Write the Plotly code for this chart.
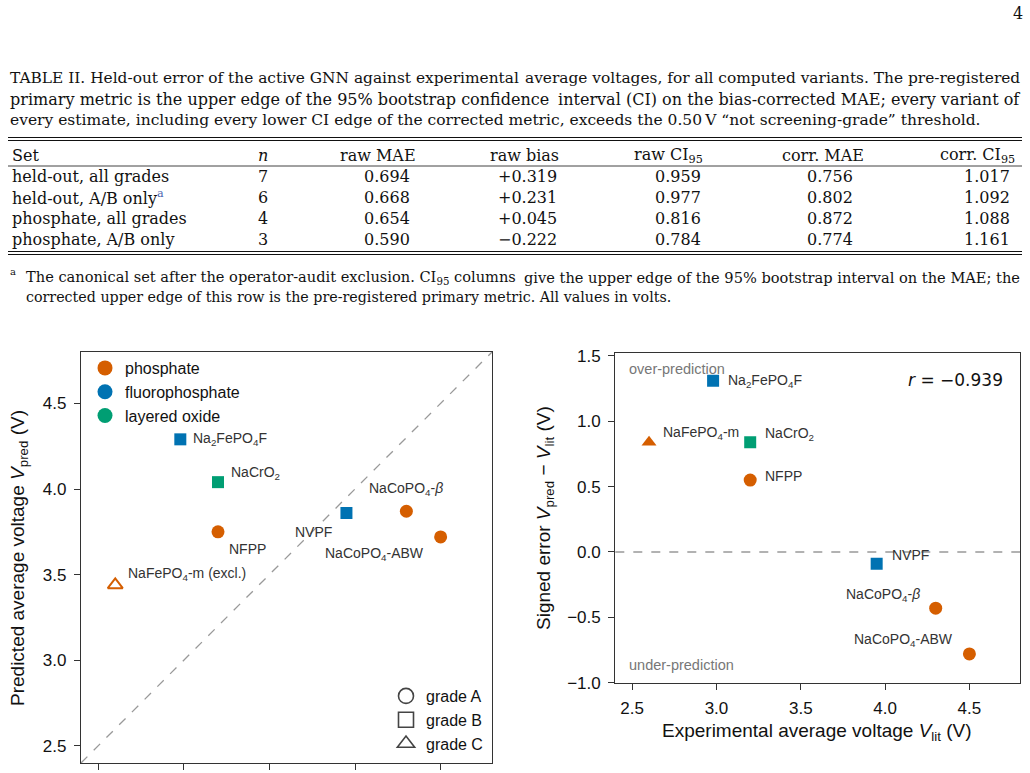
import plotly.graph_objects as go

W, H = 1030, 773

# ---------------- data ----------------
caption_lines = [
    ("TABLE II. Held-out error of the active GNN against experimental",
     "average voltages, for all computed variants. The pre-registered"),
    ("primary metric is the upper edge of the 95% bootstrap confidence",
     "interval (CI) on the bias-corrected MAE; every variant of"),
    ("every estimate, including every lower CI edge of the corrected metric, exceeds the 0.50\u2009V \u201cnot screening-grade\u201d threshold.", None),
]
col_headers = ["Set", "<i>n</i>", "raw MAE", "raw bias", "raw CI<sub>95</sub>", "corr. MAE", "corr. CI<sub>95</sub>"]
set_names = ["held-out, all grades", "held-out, A/B only", "phosphate, all grades", "phosphate, A/B only"]
set_footmark = ["", "a", "", ""]
n_vals = [7, 6, 4, 3]
raw_mae = [0.694, 0.668, 0.654, 0.590]
raw_bias = [0.319, 0.231, 0.045, -0.222]
raw_ci95 = [0.959, 0.977, 0.816, 0.784]
corr_mae = [0.756, 0.802, 0.872, 0.774]
corr_ci95 = [1.017, 1.092, 1.088, 1.161]
footnote_lines = [
    ("The canonical set after the operator-audit exclusion. CI<sub>95</sub> columns",
     "give the upper edge of the 95% bootstrap interval on the MAE; the"),
    ("corrected upper edge of this row is the pre-registered primary metric. All values in volts.", None),
]

materials = ["NFPP", "NaCoPO<sub>4</sub>-<i>\u03b2</i>", "NaCoPO<sub>4</sub>-ABW", "NaFePO<sub>4</sub>-m",
             "Na<sub>2</sub>FePO<sub>4</sub>F", "NVPF", "NaCrO<sub>2</sub>"]
family = ["phosphate", "phosphate", "phosphate", "phosphate", "fluorophosphate", "fluorophosphate", "layered oxide"]
grade = ["A", "A", "A", "C", "B", "B", "B"]
v_lit = [3.20, 4.30, 4.50, 2.60, 2.98, 3.95, 3.20]
v_pred = [3.75, 3.87, 3.72, 3.44, 4.29, 3.86, 4.04]
r_text = "<i>r</i> = \u22120.939"

fam_order = ["phosphate", "fluorophosphate", "layered oxide"]
fam_color = {"phosphate": "#D55E00", "fluorophosphate": "#0072B2", "layered oxide": "#009E73"}
grade_order = ["A", "B", "C"]
grade_symbol = {"A": "circle", "B": "square", "C": "triangle-up"}
grade_size = {"A": 13, "B": 12, "C": 13}

# label offsets (pixels) : (xanchor, xshift, yshift)
left_lab = [("left", 9, -17), ("center", 0, 22), ("right", -15, -17), ("left", 11, 11),
            ("left", 11, 0), ("right", -12, -19), ("left", 11, 9)]
left_suffix = ["", "", "", " (excl.)", "", "", ""]
right_lab = [("left", 13, 4), ("right", -14, 13), ("right", -14, 14), ("left", 12, 9),
             ("left", 13, 0), ("left", 13, 9), ("left", 13, 8)]

err = [p - l for p, l in zip(v_pred, v_lit)]

# ---------------- helpers ----------------
def px(x):
    return x / W

def py(y):
    return 1 - y / H

SERIF = "DejaVu Serif"
SANS = "Liberation Sans"
CAP_SIZES = [15.4, 16.05, 15.5]
TAB = 16
FN_SIZES = [14.6, 14.25]
annotations = []
shapes = []

def txt(x, y, text, size=TAB, anchor="left", font=SERIF, color="#111", yanchor="middle"):
    annotations.append(dict(x=px(x), y=py(y), xref="paper", yref="paper", text=text,
                            showarrow=False, xanchor=anchor, yanchor=yanchor,
                            font=dict(family=font, size=size, color=color)))

def hline(y, x0=8, x1=1022, w=1.0):
    shapes.append(dict(type="line", xref="paper", yref="paper", x0=px(x0), x1=px(x1),
                       y0=py(y), y1=py(y), line=dict(color="#111", width=w)))

# page number
txt(1018, 13, "4", size=16, anchor="center")

# caption
cap_y = [78, 99, 119.5]
for (l, r), y, s in zip(caption_lines, cap_y, CAP_SIZES):
    txt(8, y, l, size=s, anchor="left")
    if r:
        txt(1022, y, r, size=s, anchor="right")

# table rules
hline(137.5); hline(140.5); hline(166, w=0.8); hline(251.5); hline(254.5)

# table header
hdr_y = 155.5
col_right = [None, None, 418, 561, 705, 866, 1017]
val_right = [None, None, 412, 559, 703, 855, 1012]
txt(10, hdr_y, col_headers[0], anchor="left")
txt(263, hdr_y, col_headers[1], anchor="center")
for j in range(2, 7):
    txt(col_right[j], hdr_y, col_headers[j], anchor="right")

row_y = [176.5, 197.5, 218, 239]
cols = [raw_mae, raw_bias, raw_ci95, corr_mae, corr_ci95]
for i, y in enumerate(row_y):
    name = set_names[i]
    if set_footmark[i]:
        name += "<sup><span style='color:#4a64b0'>" + set_footmark[i] + "</span></sup>"
    txt(10, y, name, anchor="left")
    txt(263, y, str(n_vals[i]), anchor="center")
    for j, c in enumerate(cols):
        v = c[i]
        if j == 1:
            s = ("+" if v >= 0 else "\u2212") + f"{abs(v):.3f}"
        else:
            s = f"{v:.3f}"
        txt(val_right[j + 2], y, s, anchor="right")

# footnote
fn_y = [277, 297]
txt(8, 271, "a", size=10, anchor="left")
for (l, r), y, s in zip(footnote_lines, fn_y, FN_SIZES):
    txt(24, y, l, size=s, anchor="left")
    if r:
        txt(1022, y, r, size=s, anchor="right")

# ---------------- plots ----------------
fig = go.Figure()

sym = [grade_symbol[g] for g in grade]
cols_pt = [fam_color[f] for f in family]
sizes = [grade_size[g] for g in grade]

# left panel: predicted vs experimental
sym_left = [s + "-open" if g == "C" else s for s, g in zip(sym, grade)]
lw_left = [2 if g == "C" else 0 for g in grade]
fig.add_trace(go.Scatter(x=v_lit, y=v_pred, mode="markers", xaxis="x", yaxis="y", showlegend=False,
                         marker=dict(symbol=sym_left, color=cols_pt, size=sizes, opacity=1,
                                     line=dict(width=lw_left, color=cols_pt)),
                         hoverinfo="skip"))
# right panel: signed error
fig.add_trace(go.Scatter(x=v_lit, y=err, mode="markers", xaxis="x2", yaxis="y2", showlegend=False,
                         marker=dict(symbol=sym, color=cols_pt, size=sizes, opacity=1, line=dict(width=0)),
                         hoverinfo="skip"))

# legends (entries only)
for f in fam_order:
    fig.add_trace(go.Scatter(x=[None], y=[None], mode="markers", name=f, legend="legend",
                             xaxis="x", yaxis="y",
                             marker=dict(symbol="circle", size=15, opacity=1, color=fam_color[f])))
for g in grade_order:
    fig.add_trace(go.Scatter(x=[None], y=[None], mode="markers", name="grade " + g, legend="legend2",
                             xaxis="x", yaxis="y",
                             marker=dict(symbol=grade_symbol[g] + "-open", size=15, opacity=1, color="#444",
                                         line=dict(width=1.6))))

# point labels
for i in range(len(materials)):
    a, dx, dy = left_lab[i]
    annotations.append(dict(x=v_lit[i], y=v_pred[i], xref="x", yref="y", text=materials[i] + left_suffix[i],
                            showarrow=False, xanchor=a, yanchor="middle", xshift=dx, yshift=dy,
                            font=dict(family=SANS, size=14, color="#333")))
    a, dx, dy = right_lab[i]
    annotations.append(dict(x=v_lit[i], y=err[i], xref="x2", yref="y2", text=materials[i],
                            showarrow=False, xanchor=a, yanchor="middle", xshift=dx, yshift=dy,
                            font=dict(family=SANS, size=14, color="#333")))

# reference lines
shapes.append(dict(type="line", xref="x", yref="y", x0=2.4, y0=2.4, x1=4.8, y1=4.8, layer="below",
                   line=dict(color="#999", width=1.3, dash="dash")))
shapes.append(dict(type="line", xref="x2 domain", yref="y2", x0=0, x1=1, y0=0, y1=0, layer="below",
                   line=dict(color="#999", width=1.3, dash="dash")))

# in-panel texts
txt(627, 369.5, "over-prediction", size=14.5, font=SANS, color="#777")
txt(627, 665, "under-prediction", size=14.5, font=SANS, color="#777")
txt(1005, 379.5, r_text, size=17, font="DejaVu Sans", color="#111", anchor="right")

# axis titles
annotations.append(dict(x=px(19), y=py(558), xref="paper", yref="paper", textangle=-90, showarrow=False,
                        text="Predicted average voltage <i>V</i><sub>pred</sub> (V)",
                        font=dict(family=SANS, size=19, color="#111"), xanchor="center", yanchor="middle"))
annotations.append(dict(x=px(545), y=py(518), xref="paper", yref="paper", textangle=-90, showarrow=False,
                        text="Signed error <i>V</i><sub>pred</sub> \u2212 <i>V</i><sub>lit</sub> (V)",
                        font=dict(family=SANS, size=19, color="#111"), xanchor="center", yanchor="middle"))
annotations.append(dict(x=px(817), y=py(731.5), xref="paper", yref="paper", showarrow=False,
                        text="Experimental average voltage <i>V</i><sub>lit</sub> (V)",
                        font=dict(family=SANS, size=19, color="#111"), xanchor="center", yanchor="middle"))

axis_common = dict(showline=True, linecolor="#333", linewidth=1.3, mirror=True, ticks="outside",
                   ticklen=6, tickwidth=1.2, tickcolor="#333", showgrid=False, zeroline=False,
                   ticklabelstandoff=4,
                   tickfont=dict(family=SANS, size=17, color="#111"), tickformat=".1f")

fig.update_layout(
    width=W, height=H, margin=dict(l=0, r=0, t=0, b=0),
    paper_bgcolor="white", plot_bgcolor="white", template="none",
    xaxis=dict(domain=[px(81), px(492)], range=[2.4, 4.8], tickvals=[2.5, 3.0, 3.5, 4.0, 4.5],
               showticklabels=False, anchor="y", **axis_common),
    yaxis=dict(domain=[py(763), py(352)], range=[2.4, 4.8], tickvals=[2.5, 3.0, 3.5, 4.0, 4.5],
               anchor="x", **axis_common),
    xaxis2=dict(domain=[px(615.3), px(1020)], range=[2.4, 4.8], tickvals=[2.5, 3.0, 3.5, 4.0, 4.5],
                anchor="y2", **axis_common),
    yaxis2=dict(domain=[py(682.7), py(353.3)], range=[-1.0, 1.52], tickvals=[-1.0, -0.5, 0.0, 0.5, 1.0, 1.5],
                anchor="x2", **axis_common),
    legend=dict(x=px(85), y=py(351), xanchor="left", yanchor="top", bgcolor="rgba(0,0,0,0)",
                font=dict(family=SANS, size=16, color="#111"), tracegroupgap=0),
    legend2=dict(x=px(386), y=py(679), xanchor="left", yanchor="top", bgcolor="rgba(0,0,0,0)",
                 font=dict(family=SANS, size=16, color="#111"), tracegroupgap=0),
    annotations=annotations, shapes=shapes,
)

fig.write_html("out.html")
